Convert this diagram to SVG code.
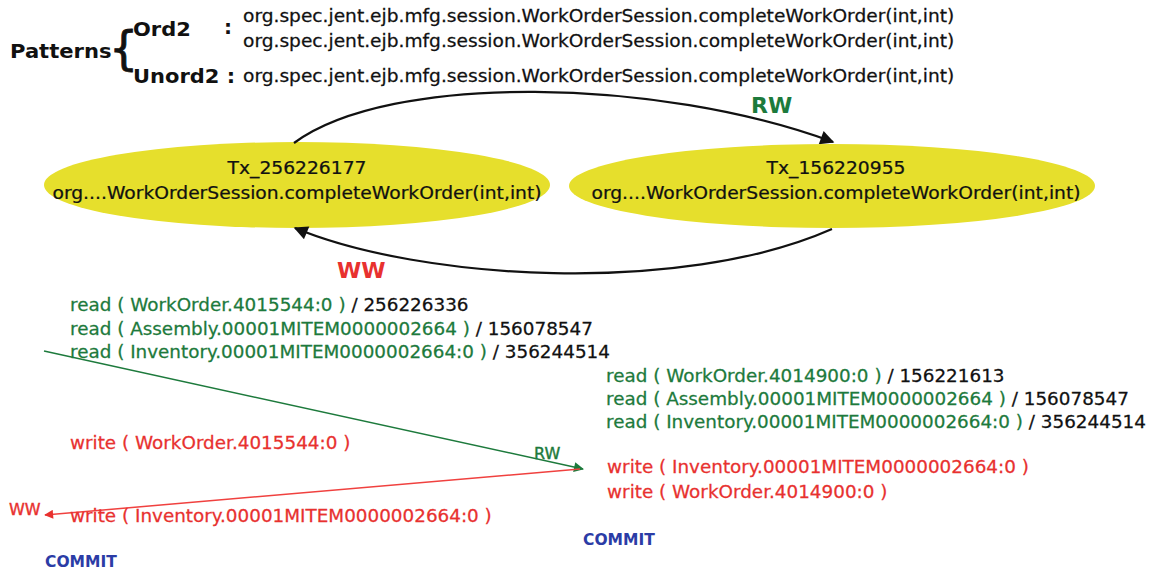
<svg xmlns="http://www.w3.org/2000/svg" width="1149" height="573" viewBox="0 0 1149 573">
  <style>
    text { font-family: "DejaVu Sans", Verdana, sans-serif; }
    .pat { font-size: 17px; fill: #111; stroke: #111; stroke-width: 0.25; }
    .patb { font-size: 20px; font-weight: bold; fill: #111; }
    .node-label { font-size: 17px; fill: #111; stroke: #111; stroke-width: 0.25; text-anchor: middle; }
    .ops { font-size: 17px; stroke-width: 0.25; }
    .rd { fill: #1d7a3c; stroke: #1d7a3c; }
    .wr { fill: #e8312f; stroke: #e8312f; }
    .blk { fill: #111; stroke: #111; }
    .commit { font-size: 15.5px; font-weight: bold; fill: #2b3ca6; }
    .edge { fill: none; stroke: #111; stroke-width: 2.2; }
    .node { fill: #e6df2c; }
    .tag { font-size: 16px; stroke-width: 0.4; }
  </style>
  <defs>
    <marker id="arrowBig" viewBox="0 0 10 10" refX="9" refY="5" markerWidth="24" markerHeight="14" markerUnits="userSpaceOnUse" orient="auto">
      <path d="M0,0 L10,5 L0,10 z" fill="#111"/>
    </marker>
    <marker id="arrowGreen" viewBox="0 0 10 10" refX="9" refY="5" markerWidth="12" markerHeight="10" markerUnits="userSpaceOnUse" orient="auto">
      <path d="M0,0 L10,5 L0,10 z" fill="#1d7a3c"/>
    </marker>
    <marker id="arrowRed" viewBox="0 0 10 10" refX="9" refY="5" markerWidth="11" markerHeight="9" markerUnits="userSpaceOnUse" orient="auto">
      <path d="M0,0 L10,5 L0,10 z" fill="#e8312f"/>
    </marker>
  </defs>
  <rect width="1149" height="573" fill="#ffffff"/>

  <!-- pattern legend -->
  <g id="patterns">
    <text class="patb" transform="translate(10,58) scale(1.055,1)">Patterns</text>
    <text x="109" y="64" style="font-size:46px; fill:#111; stroke:#111; stroke-width:0.8;">{</text>
    <text class="patb" transform="translate(133,36) scale(1.05,1)">Ord2</text>
    <text class="patb" x="224" y="34">:</text>
    <text class="patb" transform="translate(133,83) scale(1.05,1)">Unord2 :</text>
    <g transform="translate(243,0) scale(1.095,1)">
      <text class="pat" x="0" y="22">org.spec.jent.ejb.mfg.session.WorkOrderSession.completeWorkOrder(int,int)</text>
      <text class="pat" x="0" y="47">org.spec.jent.ejb.mfg.session.WorkOrderSession.completeWorkOrder(int,int)</text>
      <text class="pat" x="0" y="82">org.spec.jent.ejb.mfg.session.WorkOrderSession.completeWorkOrder(int,int)</text>
    </g>
  </g>

  <!-- transaction nodes -->
  <g id="tx256226177">
    <ellipse class="node" cx="297" cy="185" rx="253" ry="43"/>
    <g transform="translate(297,0) scale(1.1,1)">
      <text class="node-label" x="0" y="174">Tx_256226177</text>
      <text class="node-label" x="0" y="199">org....WorkOrderSession.completeWorkOrder(int,int)</text>
    </g>
  </g>
  <g id="tx156220955">
    <ellipse class="node" cx="832" cy="186" rx="263" ry="42"/>
    <g transform="translate(836,0) scale(1.1,1)">
      <text class="node-label" x="0" y="174">Tx_156220955</text>
      <text class="node-label" x="0" y="199">org....WorkOrderSession.completeWorkOrder(int,int)</text>
    </g>
  </g>

  <!-- dependency edges -->
  <g id="connectors">
    <path class="edge" d="M294,143 C390,72 660,78 833,142" marker-end="url(#arrowBig)"/>
    <text x="751" y="113" style="font-size:22px; font-weight:bold; fill:#1d7a3c;">RW</text>
    <path class="edge" d="M832,229 C680,296 420,280 295,228" marker-end="url(#arrowBig)"/>
    <text x="337" y="278" style="font-size:22px; font-weight:bold; fill:#e8312f;">WW</text>

    <line x1="44" y1="351" x2="583" y2="469" stroke="#1d7a3c" stroke-width="1.5" marker-end="url(#arrowGreen)"/>
    <text class="tag rd" x="534" y="459">RW</text>
    <line x1="580" y1="469" x2="45" y2="515" stroke="#f0413f" stroke-width="1.5" marker-end="url(#arrowRed)"/>
    <text class="tag wr" x="9" y="515">WW</text>
  </g>

  <!-- operations of Tx_256226177 -->
  <g id="ops256226177">
    <g transform="translate(70,0) scale(1.08,1)">
      <text class="ops" x="0" y="311"><tspan class="rd">read ( WorkOrder.4015544:0 )</tspan><tspan class="blk"> / 256226336</tspan></text>
      <text class="ops" x="0" y="335"><tspan class="rd">read ( Assembly.00001MITEM0000002664 )</tspan><tspan class="blk"> / 156078547</tspan></text>
      <text class="ops" x="0" y="358"><tspan class="rd">read ( Inventory.00001MITEM0000002664:0 )</tspan><tspan class="blk"> / 356244514</tspan></text>
      <text class="ops wr" x="0" y="449">write ( WorkOrder.4015544:0 )</text>
      <text class="ops wr" x="0" y="522">write ( Inventory.00001MITEM0000002664:0 )</text>
    </g>
    <text class="commit" x="45" y="567">COMMIT</text>
  </g>

  <!-- operations of Tx_156220955 -->
  <g id="ops156220955">
    <g transform="translate(606,0) scale(1.08,1)">
      <text class="ops" x="0" y="382"><tspan class="rd">read ( WorkOrder.4014900:0 )</tspan><tspan class="blk"> / 156221613</tspan></text>
      <text class="ops" x="0" y="405"><tspan class="rd">read ( Assembly.00001MITEM0000002664 )</tspan><tspan class="blk"> / 156078547</tspan></text>
      <text class="ops" x="0" y="428"><tspan class="rd">read ( Inventory.00001MITEM0000002664:0 )</tspan><tspan class="blk"> / 356244514</tspan></text>
      <text class="ops wr" x="1" y="473">write ( Inventory.00001MITEM0000002664:0 )</text>
      <text class="ops wr" x="1" y="498">write ( WorkOrder.4014900:0 )</text>
    </g>
    <text class="commit" x="583" y="545">COMMIT</text>
  </g>
</svg>
